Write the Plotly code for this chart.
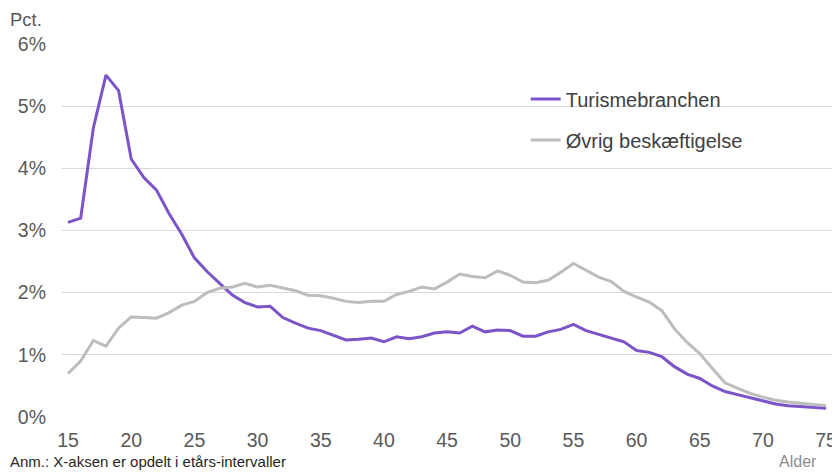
import plotly.graph_objects as go

# alder 15-75, andel af beskæftigede (pct.)
ages = list(range(15, 76))

turisme = [3.13, 3.20, 4.65, 5.50, 5.25, 4.15, 3.85, 3.65, 3.27, 2.94,
           2.56, 2.34, 2.15, 1.96, 1.84, 1.77, 1.78, 1.60, 1.51, 1.43,
           1.39, 1.31, 1.24, 1.25, 1.27, 1.21, 1.29, 1.26, 1.29, 1.35,
           1.37, 1.35, 1.46, 1.37, 1.40, 1.39, 1.30, 1.30, 1.37, 1.41,
           1.49, 1.39, 1.33, 1.27, 1.21, 1.07, 1.04, 0.97, 0.81, 0.69,
           0.62, 0.50, 0.41, 0.36, 0.31, 0.25, 0.21, 0.18, 0.17, 0.16,
           0.14]

oevrig = [0.70, 0.90, 1.23, 1.14, 1.43, 1.61, 1.60, 1.59, 1.68, 1.80,
          1.86, 2.00, 2.07, 2.09, 2.15, 2.09, 2.12, 2.07, 2.03, 1.96,
          1.95, 1.91, 1.86, 1.84, 1.86, 1.86, 1.97, 2.02, 2.09, 2.06,
          2.17, 2.30, 2.26, 2.24, 2.35, 2.28, 2.17, 2.16, 2.20, 2.33,
          2.47, 2.36, 2.25, 2.18, 2.02, 1.93, 1.85, 1.71, 1.42, 1.20,
          1.02, 0.78, 0.55, 0.46, 0.38, 0.32, 0.27, 0.24, 0.22, 0.20,
          0.18]

x_ticks = list(range(15, 76, 5))
y_ticks = [0, 1, 2, 3, 4, 5, 6]
y_labels = [f"{v}%" for v in y_ticks]

FONT = "Liberation Sans, Arial, sans-serif"

fig = go.Figure()
fig.add_trace(go.Scatter(x=ages, y=turisme, mode="lines", name="Turismebranchen",
                         line=dict(color="#7B55C8", width=3), legendgroup="a"))
fig.add_trace(go.Scatter(x=ages, y=oevrig, mode="lines", name="Øvrig beskæftigelse",
                         line=dict(color="#BDBDBD", width=3), legendgroup="b"))

# the page body has an 8px margin, so the figure is a bit smaller than the window
fig.update_layout(
    width=832, height=464,
    margin=dict(l=54, r=0, t=36, b=55),
    paper_bgcolor="white", plot_bgcolor="white",
    font=dict(family=FONT, size=19.5, color="#595959"),
    legend=dict(x=0.596, y=0.905, xanchor="left", yanchor="top",
                font=dict(size=20, color="#404040"),
                tracegroupgap=12, bgcolor="rgba(0,0,0,0)"),
    annotations=[
        dict(text="Pct.", xref="paper", yref="paper", x=-0.0694, y=1.065,
             xanchor="left", yanchor="middle", showarrow=False,
             font=dict(size=18.5, color="#595959")),
        dict(text="Alder", xref="paper", yref="paper", x=0.946, y=-0.118,
             xanchor="center", yanchor="middle", showarrow=False,
             font=dict(size=16, color="#8c8c8c")),
        dict(text="Anm.: X-aksen er opdelt i etårs-intervaller", xref="paper", yref="paper",
             x=-0.0694, y=-0.12, xanchor="left", yanchor="middle", showarrow=False,
             font=dict(size=15, color="#262626")),
    ],
)

fig.update_xaxes(range=[14.52, 76.1], tickvals=x_ticks, showgrid=False,
                 zeroline=False, showline=False, ticklabelstandoff=9,
                 tickfont=dict(size=19.5, color="#595959"))
fig.update_yaxes(range=[0, 6], tickvals=y_ticks, ticktext=y_labels,
                 showgrid=True, gridcolor="#D9D9D9", gridwidth=1,
                 zeroline=False, showline=False, ticklabelstandoff=15,
                 tickfont=dict(size=19.5, color="#595959"))

fig.write_html("out.html")
